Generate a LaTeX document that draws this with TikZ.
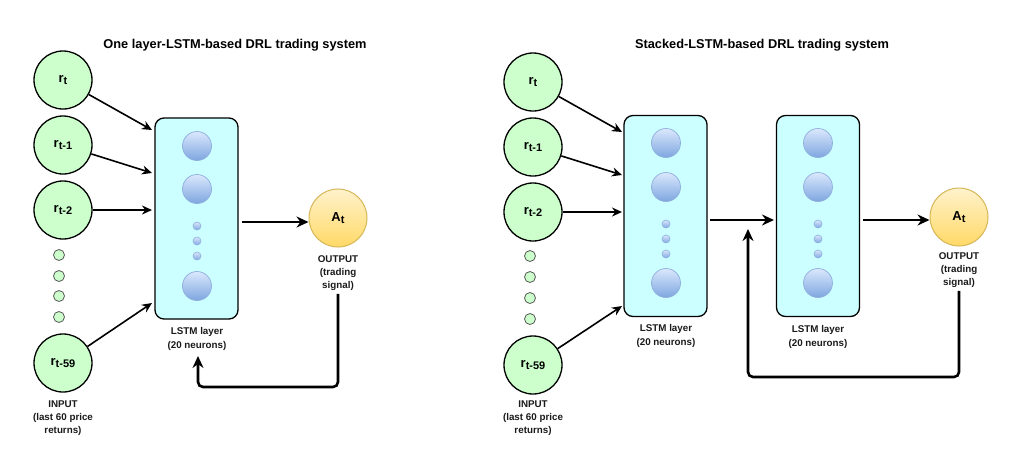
\documentclass[tikz,border=0pt]{standalone}
\usepackage{fontspec}
\setmainfont{Liberation Sans}
\usetikzlibrary{arrows.meta}
\definecolor{ingreen}{HTML}{CCFFCC}
\definecolor{lstmfill}{HTML}{CCFFFF}
\definecolor{neutop}{HTML}{DAE8FC}
\definecolor{neubot}{HTML}{7EA6E0}
\definecolor{neudraw}{HTML}{8FAEDF}
\definecolor{outtop}{HTML}{FFF2CC}
\definecolor{outbot}{HTML}{FFD966}
\definecolor{outdraw}{HTML}{D6B656}
\definecolor{txt}{HTML}{1A1A1A}
\newcommand{\rsub}[1]{r\raisebox{-0.35ex}{\fontsize{11}{12}\selectfont #1}}
\begin{document}
\begin{tikzpicture}[x=1pt,y=-1pt,
  innode/.style={circle,draw=black,line width=1.3pt,fill=ingreen,minimum size=58pt,inner sep=0pt,font=\bfseries\fontsize{13}{15}\selectfont},
  indot/.style={circle,draw=black!65,line width=0.8pt,fill=ingreen,minimum size=11pt,inner sep=0pt},
  lstmbox/.style={rectangle,rounded corners=9pt,draw=black,line width=1.3pt,fill=lstmfill,minimum width=83pt,minimum height=201pt,inner sep=0pt},
  neuron/.style={circle,draw=neudraw,line width=0.7pt,top color=neutop,bottom color=neubot,minimum size=29pt,inner sep=0pt},
  sneuron/.style={circle,draw=neudraw,line width=0.6pt,top color=neutop,bottom color=neubot,minimum size=8pt,inner sep=0pt},
  outnode/.style={circle,draw=outdraw,line width=1pt,top color=outtop,bottom color=outbot,minimum size=58pt,inner sep=0pt,font=\bfseries\fontsize{13}{15}\selectfont},
  lbl/.style={align=center,text=txt,font=\bfseries\fontsize{9.8}{13.3}\selectfont,inner sep=0pt},
  ttl/.style={font=\bfseries\fontsize{12.8}{15}\selectfont,inner sep=0pt},
  inarrow/.style={line width=1.6pt,-{Stealth[length=10pt,width=9pt]}},
  mainarrow/.style={line width=2.6pt,-{Stealth[length=12pt,width=11pt]}},
  fbarrow/.style={line width=2.6pt,rounded corners=5pt,-{Stealth[length=12pt,width=11pt]}}
]
\useasboundingbox (0,0) rectangle (1028,467);
\fill[white] (0,0) rectangle (1028,467);

% ================= LEFT PANEL =================
\node[ttl] (titleA) at (235,45) {One layer-LSTM-based DRL trading system};

\node[innode] (a0) at (63,80) {\rsub{t}};
\node[innode] (a1) at (63,145) {\rsub{t-1}};
\node[innode] (a2) at (63,210) {\rsub{t-2}};
\node[indot] (ad1) at (59,255) {};
\node[indot] (ad2) at (59,276) {};
\node[indot] (ad3) at (59,296) {};
\node[indot] (ad4) at (59,317) {};
\node[innode] (a59) at (63,363) {\rsub{t-59}};
\node[lbl] (inlblA) at (63,418) {INPUT\\(last 60 price\\returns)};

\node[lstmbox] (boxA) at (196.5,218.5) {};
\node[neuron] (nA1) at (197,146) {};
\node[neuron] (nA2) at (197,189) {};
\node[sneuron] (nA3) at (197,226) {};
\node[sneuron] (nA4) at (197,241) {};
\node[sneuron] (nA5) at (197,256) {};
\node[neuron] (nA6) at (197,286) {};
\node[lbl] (lstmlblA) at (197,339) {LSTM layer\\(20 neurons)};

\node[outnode] (outA) at (338,218) {A\raisebox{-0.35ex}{\fontsize{11}{12}\selectfont t}};
\node[lbl] (outlblA) at (338,273) {OUTPUT\\(trading\\signal)};

\coordinate (tA0) at (152,130);
\coordinate (tA1) at (152,173);
\coordinate (tA2) at (152,210);
\coordinate (tA59) at (152,303);
\draw[inarrow] (a0) -- (tA0);
\draw[inarrow] (a1) -- (tA1);
\draw[inarrow] (a2) -- (tA2);
\draw[inarrow] (a59) -- (tA59);

\coordinate (oA1) at (242,222);
\draw[mainarrow] (oA1) -- (outA.west |- oA1);

\coordinate (fbA) at (198,387);
\coordinate (fbAtip) at (198,356);
\draw[fbarrow] ([yshift=-3pt]outlblA.south) |- (fbA) -- (fbAtip);

% ================= RIGHT PANEL =================
\node[ttl] (titleB) at (762,45) {Stacked-LSTM-based DRL trading system};

\node[innode] (b0) at (533,82) {\rsub{t}};
\node[innode] (b1) at (533,147) {\rsub{t-1}};
\node[innode] (b2) at (533,212) {\rsub{t-2}};
\node[indot] (bd1) at (530,256) {};
\node[indot] (bd2) at (530,277) {};
\node[indot] (bd3) at (530,298) {};
\node[indot] (bd4) at (530,319) {};
\node[innode] (b59) at (533,365) {\rsub{t-59}};
\node[lbl] (inlblB) at (533,418) {INPUT\\(last 60 price\\returns)};

\node[lstmbox] (boxB1) at (665.5,216) {};
\node[neuron] (nB1) at (666,143) {};
\node[neuron] (nB2) at (666,187) {};
\node[sneuron] (nB3) at (666,224) {};
\node[sneuron] (nB4) at (666,239) {};
\node[sneuron] (nB5) at (666,254) {};
\node[neuron] (nB6) at (666,283) {};
\node[lbl] (lstmlblB1) at (666,336) {LSTM layer\\(20 neurons)};

\node[lstmbox] (boxB2) at (818,216) {};
\node[neuron] (nC1) at (818,143) {};
\node[neuron] (nC2) at (818,187) {};
\node[sneuron] (nC3) at (818,224) {};
\node[sneuron] (nC4) at (818,239) {};
\node[sneuron] (nC5) at (818,254) {};
\node[neuron] (nC6) at (818,283) {};
\node[lbl] (lstmlblB2) at (818,337) {LSTM layer\\(20 neurons)};

\node[outnode] (outB) at (959,217) {A\raisebox{-0.35ex}{\fontsize{11}{12}\selectfont t}};
\node[lbl] (outlblB) at (959,270) {OUTPUT\\(trading\\signal)};

\coordinate (tB0) at (622,132);
\coordinate (tB1) at (622,175);
\coordinate (tB2) at (622,212);
\coordinate (tB59) at (622,306);
\draw[inarrow] (b0) -- (tB0);
\draw[inarrow] (b1) -- (tB1);
\draw[inarrow] (b2) -- (tB2);
\draw[inarrow] (b59) -- (tB59);

\coordinate (oB1) at (710,220);
\coordinate (iB2) at (774,220);
\draw[mainarrow] (oB1) -- (iB2);
\coordinate (oB2) at (863,220);
\draw[mainarrow] (oB2) -- (outB.west |- oB2);

\coordinate (fbB) at (748,377);
\coordinate (fbBtip) at (748,229);
\draw[fbarrow] ([yshift=-3pt]outlblB.south) |- (fbB) -- (fbBtip);
\end{tikzpicture}
\end{document}
